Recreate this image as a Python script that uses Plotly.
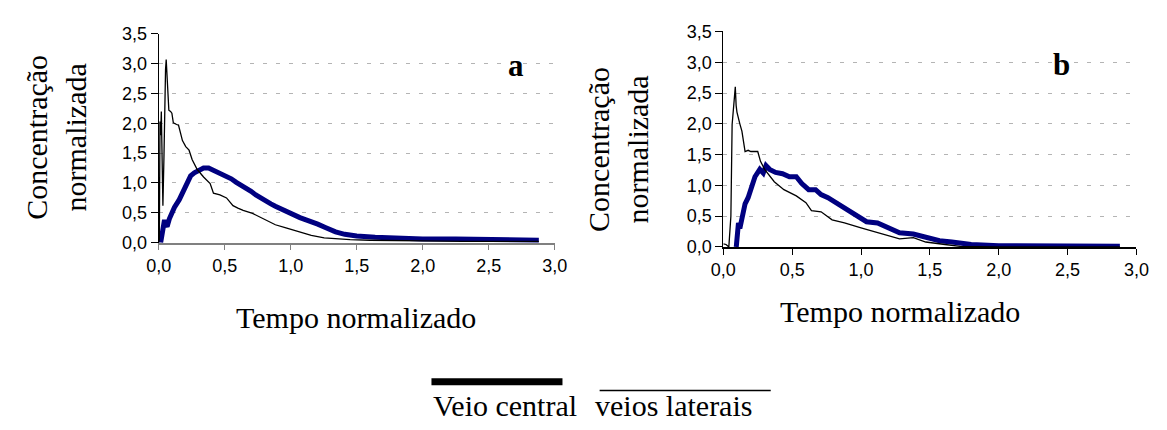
import plotly.graph_objects as go

# ---------------- data ----------------
# Panel a – thin black curve
a_lat_t = [0.0, 0.005, 0.01, 0.015, 0.02, 0.026, 0.032, 0.04, 0.046, 0.052, 0.057, 0.062, 0.067,
           0.074, 0.077, 0.09, 0.1, 0.111, 0.125, 0.136, 0.15, 0.165, 0.18, 0.205, 0.23, 0.254,
           0.291, 0.34, 0.39, 0.415, 0.44, 0.464, 0.514, 0.563, 0.6, 0.64, 0.711, 0.785, 0.83,
           0.884, 0.958, 1.0, 1.057, 1.156, 1.254, 1.35, 1.45, 1.6, 1.8, 2.0, 2.3, 2.6, 2.88]
a_lat_v = [0.0, 0.05, 2.03, 1.8, 2.2, 0.96, 0.62, 1.44, 2.4, 2.9, 3.07, 2.85, 2.67,
           2.3, 2.22, 2.2, 2.17, 2.01, 1.99, 1.98, 1.97, 1.85, 1.71, 1.61, 1.55, 1.39,
           1.23, 1.1, 0.99, 0.83, 0.82, 0.8, 0.75, 0.62, 0.58, 0.54, 0.49, 0.41, 0.37,
           0.3, 0.25, 0.22, 0.19, 0.12, 0.08, 0.06, 0.05, 0.04, 0.03, 0.03, 0.02, 0.02, 0.02]

# Panel a – thick blue curve
a_cen_t = [0.015, 0.03, 0.044, 0.055, 0.064, 0.081, 0.1, 0.119, 0.156, 0.18, 0.205, 0.242,
           0.27, 0.291, 0.34, 0.378, 0.41, 0.44, 0.48, 0.514, 0.55, 0.588, 0.62, 0.662,
           0.7, 0.736, 0.77, 0.81, 0.85, 0.884, 0.92, 0.958, 1.0, 1.032, 1.07, 1.106,
           1.15, 1.205, 1.267, 1.34, 1.41, 1.5, 1.64, 1.8, 2.0, 2.25, 2.5, 2.7, 2.88]
a_cen_v = [0.0, 0.2, 0.38, 0.3, 0.27, 0.4, 0.5, 0.59, 0.72, 0.83, 0.96, 1.12,
           1.17, 1.2, 1.25, 1.25, 1.22, 1.17, 1.15, 1.12, 1.07, 1.01, 0.97, 0.91,
           0.86, 0.8, 0.75, 0.69, 0.65, 0.61, 0.57, 0.53, 0.49, 0.45, 0.42, 0.39,
           0.36, 0.31, 0.25, 0.18, 0.14, 0.11, 0.09, 0.07, 0.06, 0.06, 0.05, 0.05, 0.04]

# Panel b – thin black curve
b_lat_t = [0.0, 0.02, 0.04, 0.055, 0.064, 0.075, 0.087, 0.093, 0.099, 0.12, 0.135, 0.158,
           0.18, 0.2, 0.25, 0.27, 0.3, 0.37, 0.44, 0.53, 0.6, 0.64, 0.71, 0.79, 0.88, 1.0,
           1.12, 1.28, 1.38, 1.47, 1.61, 1.72, 2.0, 2.5, 2.88]
b_lat_v = [0.05, 0.04, 0.0, 0.5, 1.99, 2.3, 2.6, 2.3, 2.19, 2.0, 1.88, 1.55,
           1.57, 1.55, 1.55, 1.39, 1.26, 1.06, 0.93, 0.83, 0.72, 0.59, 0.57, 0.44, 0.39, 0.31,
           0.23, 0.13, 0.15, 0.08, 0.04, 0.01, 0.0, 0.0, 0.0]

# Panel b – thick blue curve
b_cen_t = [0.094, 0.11, 0.12, 0.135, 0.158, 0.18, 0.206, 0.23, 0.265, 0.29, 0.31, 0.336,
           0.38, 0.43, 0.48, 0.53, 0.57, 0.62, 0.67, 0.71, 0.76, 0.83, 0.9, 0.97, 1.04,
           1.12, 1.19, 1.28, 1.38, 1.47, 1.57, 1.66, 1.8, 2.0, 2.3, 2.6, 2.88]
b_cen_v = [0.0, 0.39, 0.3, 0.49, 0.70, 0.80, 0.98, 1.14, 1.26, 1.2, 1.32, 1.26,
           1.21, 1.19, 1.14, 1.14, 1.03, 0.93, 0.93, 0.85, 0.80, 0.70, 0.59, 0.49, 0.41,
           0.39, 0.31, 0.23, 0.21, 0.15, 0.10, 0.08, 0.04, 0.02, 0.01, 0.01, 0.01]

x_ticks = [0.0, 0.5, 1.0, 1.5, 2.0, 2.5, 3.0]
y_ticks = [0.0, 0.5, 1.0, 1.5, 2.0, 2.5, 3.0, 3.5]
x_tick_text = ["0,0", "0,5", "1,0", "1,5", "2,0", "2,5", "3,0"]
y_tick_text = ["0,0", "0,5", "1,0", "1,5", "2,0", "2,5", "3,0", "3,5"]
panel_labels = ["a", "b"]
x_title = "Tempo normalizado"
y_title = "Concentração<br>normalizada"
legend_names = ["Veio central", "veios laterais"]

# ---------------- figure ----------------
W, H = 1167, 430
BLUE = "#000080"

def px(x):
    return x / W

def py(y):
    return 1 - y / H

fig = go.Figure()

fig.add_trace(go.Scatter(x=a_cen_t, y=a_cen_v, mode="lines", line=dict(color=BLUE, width=5),
                         xaxis="x", yaxis="y", showlegend=False))
fig.add_trace(go.Scatter(x=a_lat_t, y=a_lat_v, mode="lines", line=dict(color="black", width=1.3),
                         xaxis="x", yaxis="y", showlegend=False))
fig.add_trace(go.Scatter(x=b_cen_t, y=b_cen_v, mode="lines", line=dict(color=BLUE, width=5),
                         xaxis="x2", yaxis="y2", showlegend=False))
fig.add_trace(go.Scatter(x=b_lat_t, y=b_lat_v, mode="lines", line=dict(color="black", width=1.3),
                         xaxis="x2", yaxis="y2", showlegend=False))

tickfont = dict(family="Arial, Liberation Sans", size=18, color="black")

def xaxis(domain, anchor, linecolor):
    return dict(domain=domain, anchor=anchor, range=[0, 3.0], tickvals=x_ticks, ticktext=x_tick_text,
                showline=True, linecolor=linecolor, linewidth=1.5, ticks="outside", ticklen=6,
                tickcolor=linecolor, showgrid=False, zeroline=False, tickfont=tickfont, fixedrange=True)

def yaxis(domain, anchor):
    return dict(domain=domain, anchor=anchor, range=[0, 3.5], tickvals=y_ticks, ticktext=y_tick_text,
                showline=True, linecolor="black", linewidth=1, ticks="outside", ticklen=7,
                tickcolor="black", showgrid=True, gridcolor="#b4b4b4", gridwidth=1,
                griddash="4px,9px", zeroline=False, tickfont=tickfont, fixedrange=True)

fig.update_layout(
    width=W, height=H, autosize=False,
    margin=dict(l=0, r=0, t=0, b=0),
    paper_bgcolor="white", plot_bgcolor="white",
    xaxis=xaxis([px(149), px(554)], "y", "#808080"),
    yaxis=yaxis([py(244), py(25)], "x"),
    xaxis2=xaxis([px(726.5), px(1149)], "y2", "black"),
    yaxis2=yaxis([py(248.5), py(22.5)], "x2"),
    showlegend=False,
)

serif = "Times New Roman, Liberation Serif, serif"

def label(x, y, text, size=30, angle=0):
    return dict(x=px(x), y=py(y), xref="paper", yref="paper", text=text, textangle=angle,
                xanchor="center", yanchor="middle", showarrow=False, align="center",
                font=dict(family=serif, size=size, color="black"))

ann = [
    label(44, 134, y_title, angle=-90),
    label(619.5, 146, y_title, angle=-90),
    label(351, 323, x_title),
    label(907, 316, x_title),
    label(514, 58, "<b>%s</b>" % panel_labels[0], size=31),
    label(1072, 57, "<b>%s</b>" % panel_labels[1], size=31),
    label(503, 415, legend_names[0]),
    label(676, 415, legend_names[1]),
]
fig.update_layout(annotations=ann)

# legend line samples
fig.add_shape(type="line", xref="paper", yref="paper", x0=px(428), x1=px(562), y0=py(390), y1=py(390),
              line=dict(color="black", width=7))
fig.add_shape(type="line", xref="paper", yref="paper", x0=px(600), x1=px(775), y0=py(399), y1=py(399),
              line=dict(color="black", width=1.5))

fig.write_html("out.html", config={"displayModeBar": False},
               post_script="document.body.style.margin='0';document.body.style.overflow='hidden';")
